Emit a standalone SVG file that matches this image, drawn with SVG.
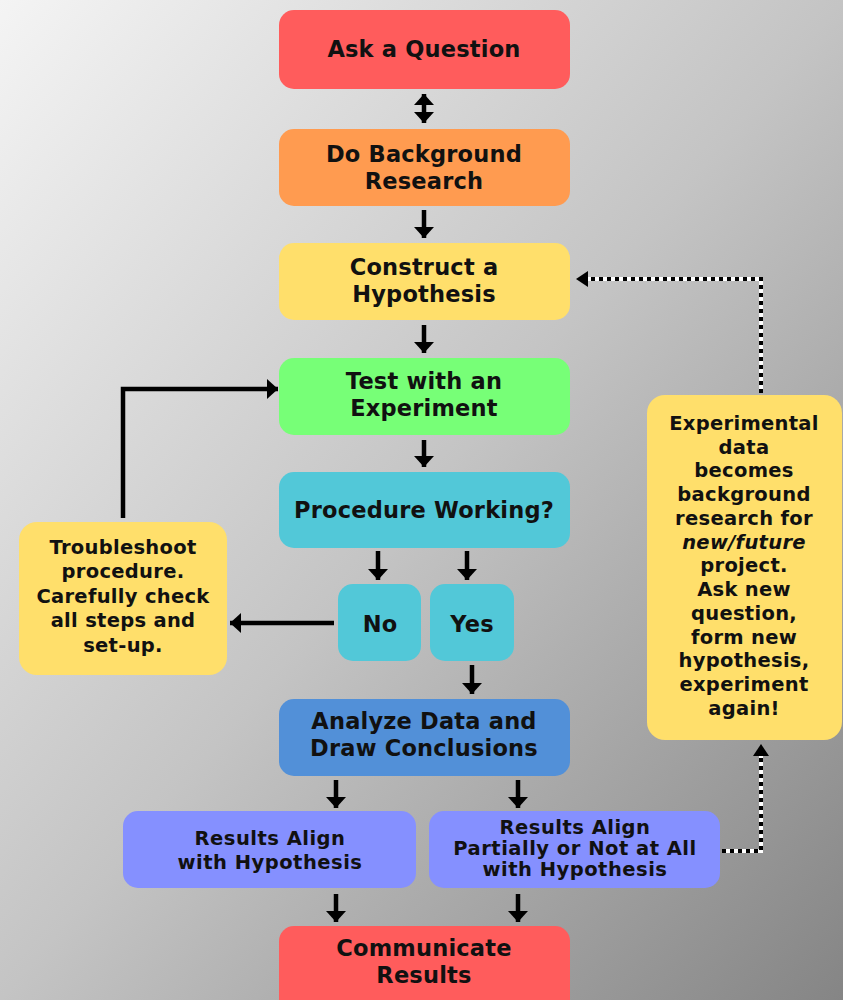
<svg xmlns="http://www.w3.org/2000/svg" width="843" height="1000" viewBox="0 0 843 1000">
<defs>
<linearGradient id="bg" x1="0" y1="0" x2="1" y2="1">
<stop offset="0" stop-color="#F4F4F4"/>
<stop offset="0.5" stop-color="#C4C4C4"/>
<stop offset="1" stop-color="#858585"/>
</linearGradient>
<marker id="ah" viewBox="0 0 11 20" refX="11" refY="10" markerWidth="11" markerHeight="20" markerUnits="userSpaceOnUse" orient="auto-start-reverse">
<path d="M0,0 L11,10 L0,20 z" fill="#000"/>
</marker>
<marker id="ahs" viewBox="0 0 12 16" refX="12" refY="8" markerWidth="12" markerHeight="16" markerUnits="userSpaceOnUse" orient="auto-start-reverse">
<path d="M0,0 L12,8 L0,16 z" fill="#000"/>
</marker>
</defs>
<style>
.box{stroke:none}
.t{font-family:"DejaVu Sans","Verdana",sans-serif;font-weight:bold;fill:#111;text-anchor:middle}
.big{font-size:22.5px;letter-spacing:0.2px}
.mid{font-size:19.5px;letter-spacing:0.3px}
.sm{font-size:19.5px;letter-spacing:0.5px}
.arr{fill:none;stroke:#000;stroke-width:4.5;marker-end:url(#ah)}
.dotw{fill:none;stroke:#fff;stroke-width:4}
.dotb{fill:none;stroke:#000;stroke-width:4;stroke-dasharray:4 4}
</style>
<rect x="0" y="0" width="843" height="1000" fill="url(#bg)"/>

<g id="connectors">
<line class="arr" x1="424" y1="94" x2="424" y2="123" style="marker-start:url(#ah)"/>
<line class="arr" x1="424" y1="210" x2="424" y2="238"/>
<line class="arr" x1="424" y1="325" x2="424" y2="353"/>
<line class="arr" x1="424" y1="440" x2="424" y2="467"/>
<line class="arr" x1="378" y1="551" x2="378" y2="580"/>
<line class="arr" x1="467" y1="551" x2="467" y2="580"/>
<line class="arr" x1="472" y1="665" x2="472" y2="694"/>
<line class="arr" x1="336" y1="780" x2="336" y2="808"/>
<line class="arr" x1="518" y1="780" x2="518" y2="808"/>
<line class="arr" x1="336" y1="894" x2="336" y2="922"/>
<line class="arr" x1="518" y1="894" x2="518" y2="922"/>
<line class="arr" x1="334" y1="623" x2="230" y2="623"/>
<polyline class="arr" points="123,518 123,389 278,389"/>
<polyline class="dotw" points="761,393 761,279 586,279"/>
<polyline class="dotb" points="761,393 761,279 586,279"/>
<line x1="590" y1="279" x2="576" y2="279" stroke="none" marker-end="url(#ahs)"/>
<polyline class="dotw" points="722,851 761,851 761,756"/>
<polyline class="dotb" points="722,851 761,851 761,756"/>
<line x1="761" y1="758" x2="761" y2="744" stroke="none" marker-end="url(#ahs)"/>
</g>

<g id="ask">
<rect class="box" x="279" y="10" width="291" height="79" rx="15" fill="#FF5C5C"/>
<text class="t big" x="424" y="57">Ask a Question</text>
</g>
<g id="background">
<rect class="box" x="279" y="129" width="291" height="77" rx="15" fill="#FF9B50"/>
<text class="t big" x="424" y="162">Do Background</text>
<text class="t big" x="424" y="189">Research</text>
</g>
<g id="hypothesis">
<rect class="box" x="279" y="243" width="291" height="77" rx="15" fill="#FFDF6B"/>
<text class="t big" x="424" y="275">Construct a</text>
<text class="t big" x="424" y="302">Hypothesis</text>
</g>
<g id="experiment">
<rect class="box" x="279" y="358" width="291" height="77" rx="15" fill="#77FF77"/>
<text class="t big" x="424" y="389">Test with an</text>
<text class="t big" x="424" y="416">Experiment</text>
</g>
<g id="procedure">
<rect class="box" x="279" y="472" width="291" height="76" rx="15" fill="#52C8D8"/>
<text class="t big" x="424" y="518">Procedure Working?</text>
</g>
<g id="no">
<rect class="box" x="338" y="584" width="83" height="77" rx="15" fill="#52C8D8"/>
<text class="t big" x="380" y="632">No</text>
</g>
<g id="yes">
<rect class="box" x="430" y="584" width="84" height="77" rx="15" fill="#52C8D8"/>
<text class="t big" x="472" y="632">Yes</text>
</g>
<g id="troubleshoot">
<rect class="box" x="19" y="522" width="208" height="153" rx="18" fill="#FFDF6B"/>
<text class="t mid" x="123" y="554">Troubleshoot</text>
<text class="t mid" x="123" y="578">procedure.</text>
<text class="t mid" x="123" y="603">Carefully check</text>
<text class="t mid" x="123" y="627">all steps and</text>
<text class="t mid" x="123" y="652">set-up.</text>
</g>
<g id="analyze">
<rect class="box" x="279" y="699" width="291" height="77" rx="15" fill="#5290D8"/>
<text class="t big" x="424" y="729">Analyze Data and</text>
<text class="t big" x="424" y="756">Draw Conclusions</text>
</g>
<g id="align">
<rect class="box" x="123" y="811" width="293" height="77" rx="15" fill="#8590FF"/>
<text class="t sm" x="270" y="845">Results Align</text>
<text class="t sm" x="270" y="869">with Hypothesis</text>
</g>
<g id="partial">
<rect class="box" x="429" y="811" width="291" height="77" rx="15" fill="#8590FF"/>
<text class="t sm" x="575" y="834">Results Align</text>
<text class="t sm" x="575" y="855">Partially or Not at All</text>
<text class="t sm" x="575" y="876">with Hypothesis</text>
</g>
<g id="communicate">
<rect class="box" x="279" y="926" width="291" height="90" rx="15" fill="#FF5C5C"/>
<text class="t big" x="424" y="956">Communicate</text>
<text class="t big" x="424" y="983">Results</text>
</g>
<g id="newproject">
<rect class="box" x="647" y="395" width="195" height="345" rx="18" fill="#FFDF6B"/>
<text class="t mid" x="744" y="430">Experimental</text>
<text class="t mid" x="744" y="454">data</text>
<text class="t mid" x="744" y="477">becomes</text>
<text class="t mid" x="744" y="501">background</text>
<text class="t mid" x="744" y="525">research for</text>
<text class="t mid" x="744" y="549" font-style="italic">new/future</text>
<text class="t mid" x="744" y="572">project.</text>
<text class="t mid" x="744" y="596">Ask new</text>
<text class="t mid" x="744" y="620">question,</text>
<text class="t mid" x="744" y="644">form new</text>
<text class="t mid" x="744" y="667">hypothesis,</text>
<text class="t mid" x="744" y="691">experiment</text>
<text class="t mid" x="744" y="715">again!</text>
</g>
</svg>
